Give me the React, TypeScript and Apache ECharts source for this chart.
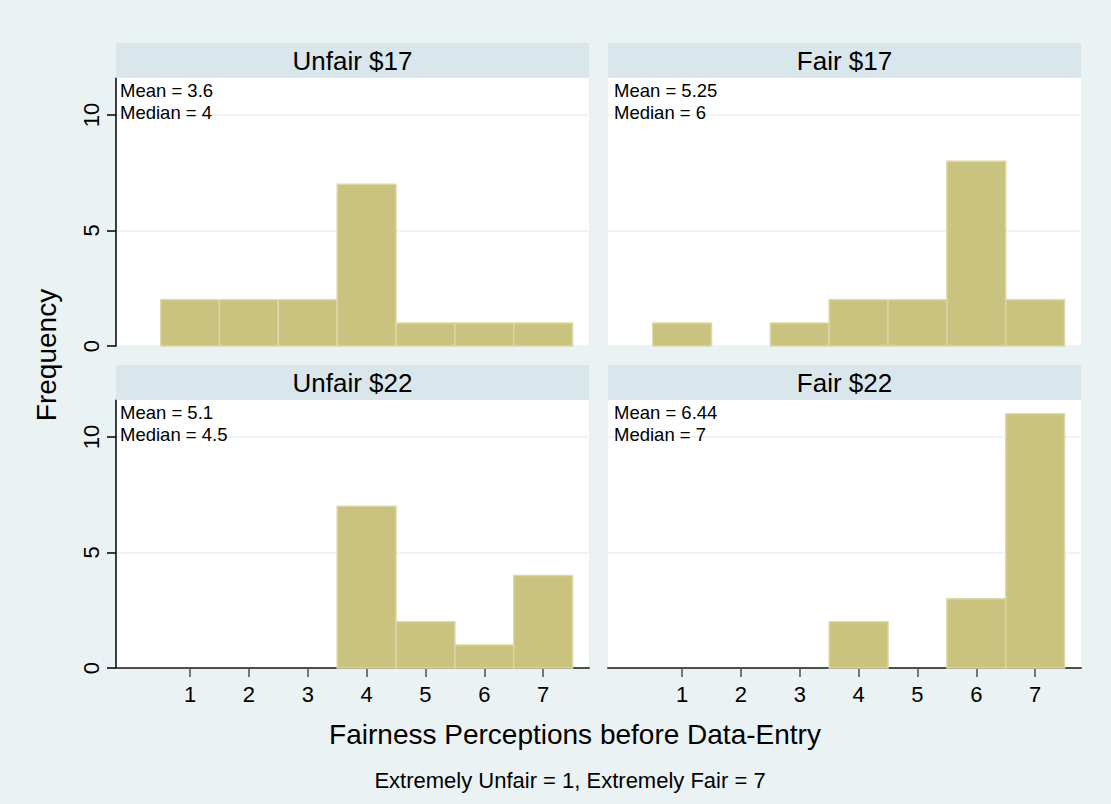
import React, { useEffect, useRef } from "react";
import * as echarts from "echarts";

const xValues = [1, 2, 3, 4, 5, 6, 7];
const unfair17 = [2, 2, 2, 7, 1, 1, 1];
const fair17 = [1, 0, 1, 2, 2, 8, 2];
const unfair22 = [0, 0, 0, 7, 2, 1, 4];
const fair22 = [0, 0, 0, 2, 0, 3, 11];
const panelTitles = ["Unfair $17", "Fair $17", "Unfair $22", "Fair $22"];
const meanLabels = ["Mean = 3.6", "Mean = 5.25", "Mean = 5.1", "Mean = 6.44"];
const medianLabels = ["Median = 4", "Median = 6", "Median = 4.5", "Median = 7"];
const yTicks = [0, 5, 10];
const binWidth = 1;

const FONT = "'Liberation Sans', Arial, Helvetica, sans-serif";

export default function App() {
  const ref = useRef<HTMLDivElement>(null);
  useEffect(() => {
    if (!ref.current) return;
    const chart = echarts.init(ref.current, null, { renderer: "svg" });
    const series = [unfair17, fair17, unfair22, fair22];
    const lefts = [116, 608, 116, 608];
    const tops = [78, 78, 400, 400];
    const W = 473;
    const H = 268;

    const grids = lefts.map((l, i) => ({ left: l, top: tops[i], width: W, height: H, backgroundColor: "#ffffff", show: true, borderWidth: 0 }));
    const xAxes = lefts.map((_, i) => ({
      type: "value",
      gridIndex: i,
      min: -0.26,
      max: 7.78,
      show: i >= 2,
      splitLine: { show: false },
      axisLine: { show: true, onZero: false, lineStyle: { color: "#4d4d4d", width: 2 } },
      axisTick: { show: true, customValues: xValues, length: 9, lineStyle: { color: "#4d4d4d", width: 1.5 } },
      axisLabel: { show: true, customValues: xValues, margin: 15, fontSize: 22, color: "#000", fontFamily: FONT },
    }));
    const yAxes = lefts.map((_, i) => {
      const left = i % 2 === 0;
      return {
        type: "value",
        gridIndex: i,
        min: 0,
        max: 11.6,
        interval: 5,
        splitLine: { show: true, lineStyle: { color: "#eaf2f3", width: 1.5 } },
        axisLine: { show: left, onZero: false, lineStyle: { color: "#000", width: 1.5 } },
        axisTick: { show: left, customValues: yTicks, length: 9, lineStyle: { color: "#000", width: 1.5 } },
        axisLabel: { show: left, customValues: yTicks, rotate: 90, margin: 14, fontSize: 22, color: "#000", fontFamily: FONT },
      };
    });

    const seriesOpts = series.map((vals, i) => ({
      type: "custom",
      xAxisIndex: i,
      yAxisIndex: i,
      data: xValues.map((x, j) => [x, vals[j]]),
      renderItem: (params: any, api: any) => {
        const x = api.value(0);
        const y = api.value(1);
        if (y <= 0) return null;
        const p0 = api.coord([x - binWidth / 2, y]);
        const p1 = api.coord([x + binWidth / 2, 0]);
        return {
          type: "rect",
          shape: { x: p0[0], y: p0[1], width: p1[0] - p0[0], height: p1[1] - p0[1] },
          style: { fill: "#cac27f", stroke: "#dcd7a6", lineWidth: 1.5 },
        };
      },
    }));

    const graphics: any[] = [];
    lefts.forEach((l, i) => {
      graphics.push({ type: "rect", z: 50, shape: { x: l, y: tops[i] - 35, width: W, height: 35 }, style: { fill: "#d9e6eb" }, silent: true });
      graphics.push({
        type: "text",
        z: 100,
        x: l + W / 2,
        y: tops[i] - 17.5,
        style: { text: panelTitles[i], fontSize: 26, fontFamily: FONT, fill: "#000", align: "center", verticalAlign: "middle" },
      });
      const tx = l + (i % 2 === 0 ? 4 : 6);
      graphics.push({
        type: "text",
        z: 100,
        x: tx,
        y: tops[i] + 12,
        style: { text: meanLabels[i], fontSize: 18.5, fontFamily: FONT, fill: "#000", align: "left", verticalAlign: "middle" },
      });
      graphics.push({
        type: "text",
        z: 100,
        x: tx,
        y: tops[i] + 34,
        style: { text: medianLabels[i], fontSize: 18.5, fontFamily: FONT, fill: "#000", align: "left", verticalAlign: "middle" },
      });
    });
    graphics.push({
      type: "text",
      z: 100,
      x: 46,
      y: 355,
      rotation: Math.PI / 2,
      style: { text: "Frequency", fontSize: 28, fontFamily: FONT, fill: "#000", align: "center", verticalAlign: "middle" },
    });
    graphics.push({
      type: "text",
      z: 100,
      x: 575,
      y: 734,
      style: { text: "Fairness Perceptions before Data-Entry", fontSize: 28, fontFamily: FONT, fill: "#000", align: "center", verticalAlign: "middle" },
    });
    graphics.push({
      type: "text",
      z: 100,
      x: 570,
      y: 780,
      style: { text: "Extremely Unfair = 1, Extremely Fair = 7", fontSize: 22, fontFamily: FONT, fill: "#000", align: "center", verticalAlign: "middle" },
    });

    chart.setOption({
      animation: false,
      backgroundColor: "#eaf2f3",
      grid: grids,
      xAxis: xAxes,
      yAxis: yAxes,
      series: seriesOpts,
      graphic: graphics,
    });
    return () => chart.dispose();
  }, []);
  return <div ref={ref} style={{ position: "fixed", left: 0, top: 0, width: 1111, height: 804 }} />;
}
